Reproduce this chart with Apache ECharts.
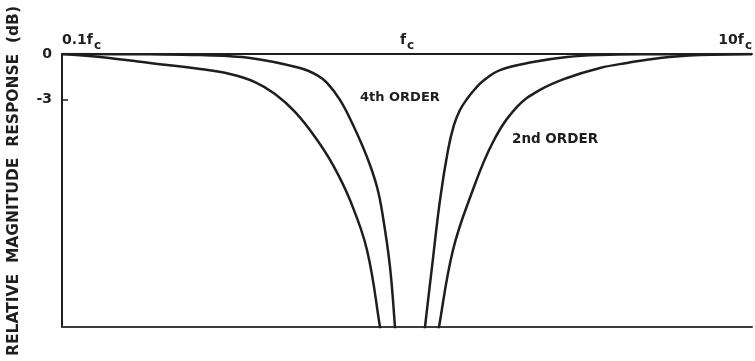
<!DOCTYPE html>
<html>
<head>
<meta charset="utf-8">
<script src="https://cdn.jsdelivr.net/npm/echarts@6/dist/echarts.min.js"></script>
<style>
  html, body { margin: 0; padding: 0; background: #fff; }
  #chart { width: 755px; height: 361px; }
</style>
</head>
<body>
<div id="chart"></div>
<script>
// frequency as multiple of fc, response in dB
// each curve has a left and a right branch; both run past the bottom of the plot
const freq2ndLow = [0.1, 0.1289, 0.1799, 0.2512, 0.3069, 0.3625, 0.4144, 0.4735, 0.5412, 0.6104, 0.6835, 0.7656, 0.835, 0.8576]
const db2ndLow = [0, -0.2, -0.59, -0.99, -1.32, -1.85, -2.64, -3.82, -5.47, -7.32, -9.63, -12.92, -18, -19.8]
const freq2ndHigh = [1.206, 1.2382, 1.3593, 1.5326, 1.7754, 2.0835, 2.4292, 2.9094, 3.6261, 4.3425, 5.4117, 7.068, 10]
const db2ndHigh = [-19.8, -18, -12.92, -9.3, -5.8, -3.49, -2.37, -1.58, -0.92, -0.59, -0.26, -0.07, 0]

const freq4thLow = [0.1, 0.1799, 0.2512, 0.3507, 0.4896, 0.5484, 0.5863, 0.6393, 0.6976, 0.7656, 0.8187, 0.8518, 0.8927, 0.923, 0.9354]
const db4thLow = [0, -0.02, -0.07, -0.26, -0.92, -1.39, -1.91, -3.03, -4.68, -6.79, -8.77, -10.75, -14.04, -18, -19.85]
const freq4thHigh = [1.1052, 1.1276, 1.1816, 1.2464, 1.3149, 1.3685, 1.4241, 1.4922, 1.5742, 1.6609, 1.8606, 2.319, 2.9094, 3.6261, 5.0607, 10]
const db4thHigh = [-19.85, -18, -14.04, -9.63, -6.33, -4.68, -3.69, -2.97, -2.31, -1.78, -1.06, -0.53, -0.2, -0.07, -0.02, 0]

const xTicks = [0.1, 1, 10]
const xTickText = ['0.1', '', '10']
const yTicks = [0, -3]

const ink = '#1c1f1c'
const font = '"DejaVu Sans", sans-serif'

const chart = echarts.init(document.getElementById('chart'))

const zip = (a, b) => a.map((v, i) => [v, b[i]])
// left branch, a gap at fc, right branch
const curve = (fl, dl, fh, dh) => zip(fl, dl).concat([[1, null]], zip(fh, dh))

const option = {
  animation: false,
  backgroundColor: '#fff',
  grid: { left: 62, right: 3, top: 54, bottom: 34 },
  xAxis: [
    {
      type: 'log',
      logBase: 10,
      min: 0.1,
      max: 10,
      position: 'top',
      axisLine: { show: true, lineStyle: { color: ink, width: 2 } },
      axisTick: { show: false },
      splitLine: { show: false },
      axisLabel: {
        margin: 3,
        alignMinLabel: 'left',
        alignMaxLabel: 'right',
        formatter: v => {
          const i = xTicks.findIndex(t => Math.abs(Math.log10(t) - Math.log10(v)) < 1e-6)
          if (i < 0) return ''
          return '{n|' + xTickText[i] + 'f}{s|c}'
        },
        rich: {
          n: { fontFamily: font, fontSize: 14, fontWeight: 'bold', color: ink, lineHeight: 18, verticalAlign: 'top' },
          s: { fontFamily: font, fontSize: 12, fontWeight: 'bold', color: ink, lineHeight: 18, padding: [7, 0, 0, 1] }
        }
      }
    },
    {
      type: 'log',
      logBase: 10,
      min: 0.1,
      max: 10,
      position: 'bottom',
      axisLine: { show: true, lineStyle: { color: '#3a3d3a', width: 2 } },
      axisTick: { show: false },
      axisLabel: { show: false },
      splitLine: { show: false }
    }
  ],
  yAxis: {
    type: 'value',
    min: -18,
    max: 0,
    axisLine: { show: true, lineStyle: { color: ink, width: 2 } },
    splitLine: { show: false },
    axisTick: {
      show: true,
      inside: true,
      length: 6,
      customValues: [-3],
      lineStyle: { color: ink, width: 1.5 }
    },
    axisLabel: {
      customValues: yTicks,
      margin: 10,
      fontFamily: font,
      fontSize: 14,
      fontWeight: 'bold',
      color: ink
    }
  },
  graphic: [
    {
      type: 'text',
      x: 14,
      y: 181,
      rotation: Math.PI / 2,
      style: {
        text: 'RELATIVE  MAGNITUDE  RESPONSE  (dB)',
        fontFamily: font,
        fontSize: 15.5,
        fontWeight: 'bold',
        fill: ink,
        align: 'center',
        verticalAlign: 'middle'
      }
    },
    {
      type: 'text',
      x: 360,
      y: 98,
      style: {
        text: '4th ORDER',
        fontFamily: font,
        fontSize: 13,
        fontWeight: 'bold',
        fill: ink,
        align: 'left',
        verticalAlign: 'middle'
      }
    },
    {
      type: 'text',
      x: 512,
      y: 139,
      style: {
        text: '2nd ORDER',
        fontFamily: font,
        fontSize: 13.5,
        fontWeight: 'bold',
        fill: ink,
        align: 'left',
        verticalAlign: 'middle'
      }
    }
  ],
  series: [
    {
      name: '2nd ORDER',
      type: 'line',
      data: curve(freq2ndLow, db2ndLow, freq2ndHigh, db2ndHigh),
      smooth: 0.4,
      connectNulls: false,
      symbol: 'none',
      lineStyle: { color: ink, width: 2.5 }
    },
    {
      name: '4th ORDER',
      type: 'line',
      data: curve(freq4thLow, db4thLow, freq4thHigh, db4thHigh),
      smooth: 0.4,
      connectNulls: false,
      symbol: 'none',
      lineStyle: { color: ink, width: 2.5 }
    }
  ]
}

chart.setOption(option)
</script>
</body>
</html>
